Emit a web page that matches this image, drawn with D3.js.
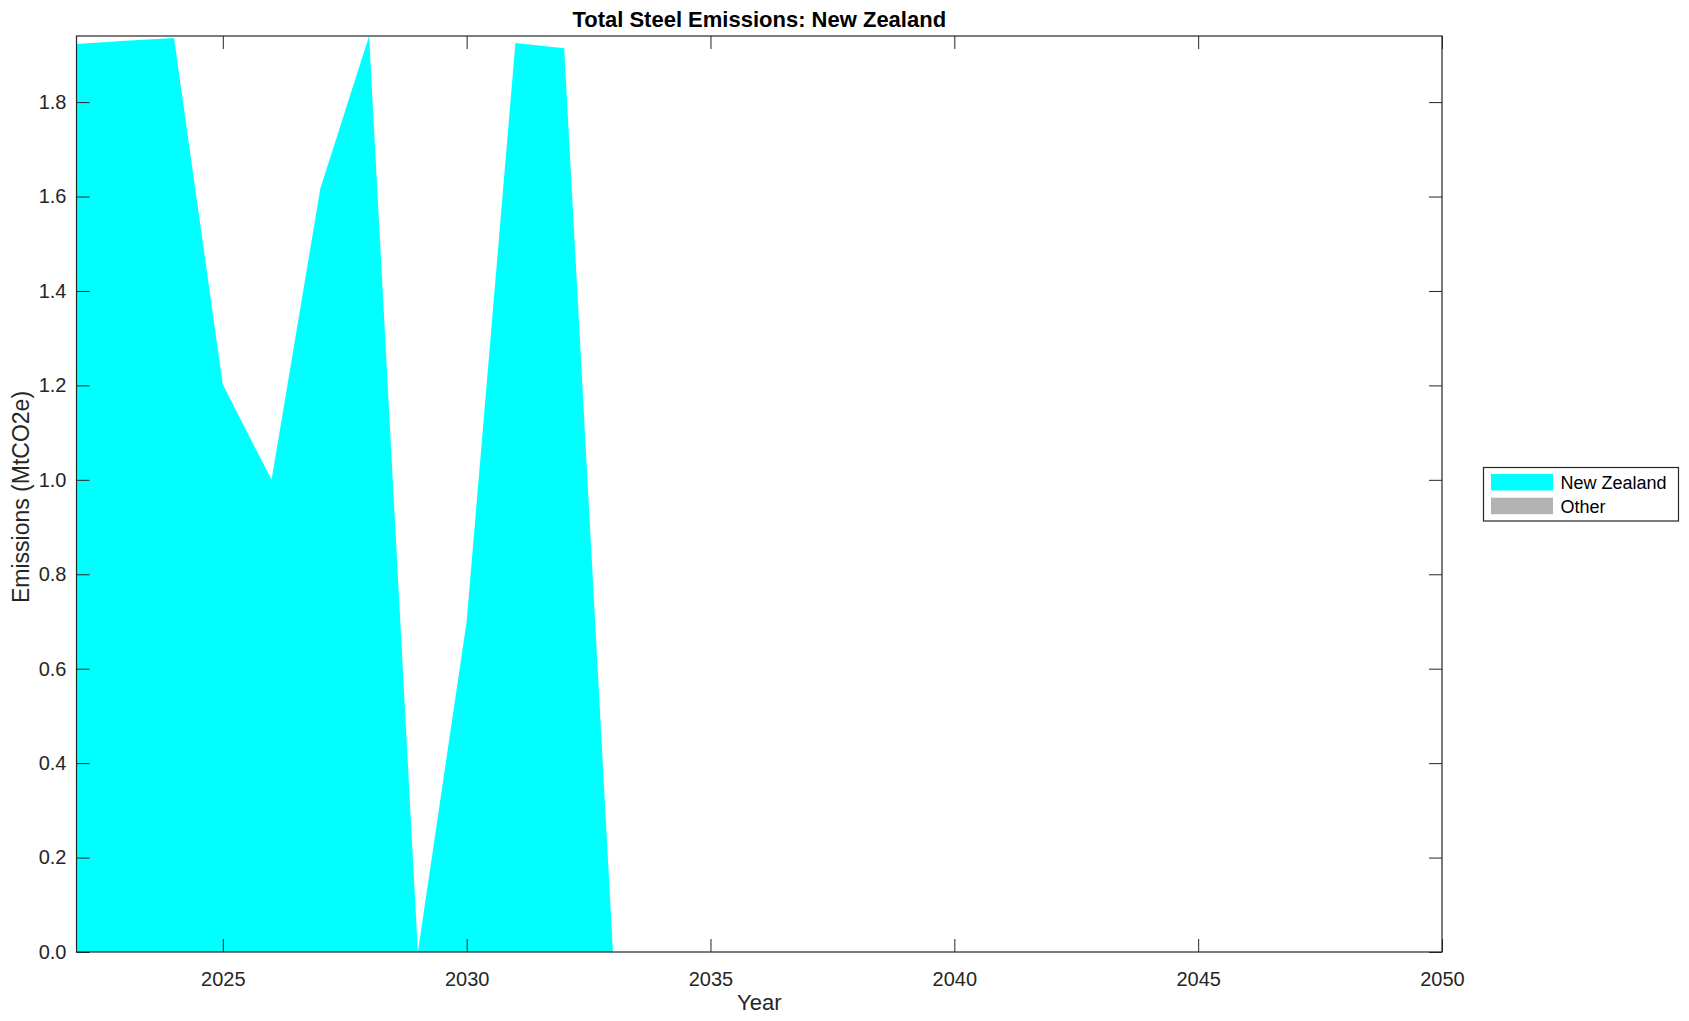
<!DOCTYPE html>
<html>
<head>
<meta charset="utf-8">
<script src="https://cdn.jsdelivr.net/npm/d3@7"></script>
<style>
  html, body { margin: 0; padding: 0; background: #fff; }
  svg { display: block; }
  text { font-family: "Liberation Sans", Arial, Helvetica, sans-serif; }
</style>
</head>
<body>
<script>
// ---- data ----
const years = d3.range(2022, 2051);
const newZealand = [1.923, 1.930, 1.936, 1.202, 1.000, 1.617, 1.940, 0.000, 0.700, 1.925, 1.914, 0.000,
  0, 0, 0, 0, 0, 0, 0, 0, 0, 0, 0, 0, 0, 0, 0, 0, 0];
const other = years.map(() => 0);
const seriesNames = ["New Zealand", "Other"];
const seriesColors = ["#00ffff", "#b3b3b3"];
const xTicks = [2025, 2030, 2035, 2040, 2045, 2050];
const yTicks = [0, 0.2, 0.4, 0.6, 0.8, 1.0, 1.2, 1.4, 1.6, 1.8];
const titleText = "Total Steel Emissions: New Zealand";
const xLabel = "Year";
const yLabel = "Emissions (MtCO2e)";

// ---- layout ----
const W = 1689, H = 1021;
const m = { left: 76.5, right: 1442, top: 36, bottom: 952 };
const axisColor = "#262626";

const svg = d3.select("body").append("svg").attr("width", W).attr("height", H);

const x = d3.scaleLinear().domain([2022, 2050]).range([m.left, m.right]);
const y = d3.scaleLinear().domain([0, 1.94]).range([m.bottom, m.top]);

const table = years.map((yr, i) => ({ year: yr, "New Zealand": newZealand[i], "Other": other[i] }));
const stack = d3.stack().keys(seriesNames);
const layers = stack(table);

const area = d3.area()
  .x(d => x(d.data.year))
  .y0(d => y(d[0]))
  .y1(d => y(d[1]));

svg.append("g").selectAll("path")
  .data(layers)
  .join("path")
  .attr("d", area)
  .attr("fill", (d, i) => seriesColors[i])
  .attr("stroke", "none");

// ---- axes ----
const tickLen = 13;
const fmt = d3.format(".1f");

const gx = svg.append("g").attr("transform", `translate(0,${m.bottom})`)
  .call(d3.axisBottom(x).tickValues(xTicks).tickFormat(d3.format("d")).tickSizeInner(-tickLen).tickSizeOuter(0).tickPadding(20));
const gxt = svg.append("g").attr("transform", `translate(0,${m.top})`)
  .call(d3.axisTop(x).tickValues(xTicks).tickFormat("").tickSizeInner(-tickLen).tickSizeOuter(0));
const gy = svg.append("g").attr("transform", `translate(${m.left},0)`)
  .call(d3.axisLeft(y).tickValues(yTicks).tickFormat(fmt).tickSizeInner(-tickLen).tickSizeOuter(0).tickPadding(10));
const gyr = svg.append("g").attr("transform", `translate(${m.right},0)`)
  .call(d3.axisRight(y).tickValues(yTicks).tickFormat("").tickSizeInner(-tickLen).tickSizeOuter(0));

[gx, gxt, gy, gyr].forEach(g => {
  g.select(".domain").remove();
  g.selectAll("line").attr("stroke", axisColor).attr("stroke-width", 1);
  g.selectAll("text").attr("fill", axisColor).style("font-size", "20px")
    .style("font-family", '"Liberation Sans", Arial, sans-serif');
});

svg.append("rect")
  .attr("x", m.left).attr("y", m.top)
  .attr("width", m.right - m.left).attr("height", m.bottom - m.top)
  .attr("fill", "none").attr("stroke", axisColor).attr("stroke-width", 1.2);

// ---- labels ----
svg.append("text")
  .attr("x", (m.left + m.right) / 2).attr("y", 27)
  .attr("text-anchor", "middle")
  .style("font-size", "22px").style("font-weight", "bold").attr("fill", "#000")
  .text(titleText);

svg.append("text")
  .attr("x", (m.left + m.right) / 2).attr("y", 1010)
  .attr("text-anchor", "middle")
  .style("font-size", "22px").attr("fill", axisColor)
  .text(xLabel);

svg.append("text")
  .attr("transform", `translate(29,497) rotate(-90)`)
  .attr("text-anchor", "middle")
  .style("font-size", "23px").attr("fill", axisColor)
  .text(yLabel);

// ---- legend ----
const lg = svg.append("g");
lg.append("rect")
  .attr("x", 1483.5).attr("y", 467.5).attr("width", 195).attr("height", 53.5)
  .attr("fill", "#fff").attr("stroke", axisColor).attr("stroke-width", 1.2);
seriesNames.forEach((name, i) => {
  const yy = 474 + i * 23.7;
  lg.append("rect").attr("x", 1491).attr("y", yy).attr("width", 62).attr("height", 16.5)
    .attr("fill", seriesColors[i]);
  lg.append("text").attr("x", 1560.5).attr("y", yy + 15)
    .style("font-size", "18px").attr("fill", "#000").text(name);
});
</script>
</body>
</html>
